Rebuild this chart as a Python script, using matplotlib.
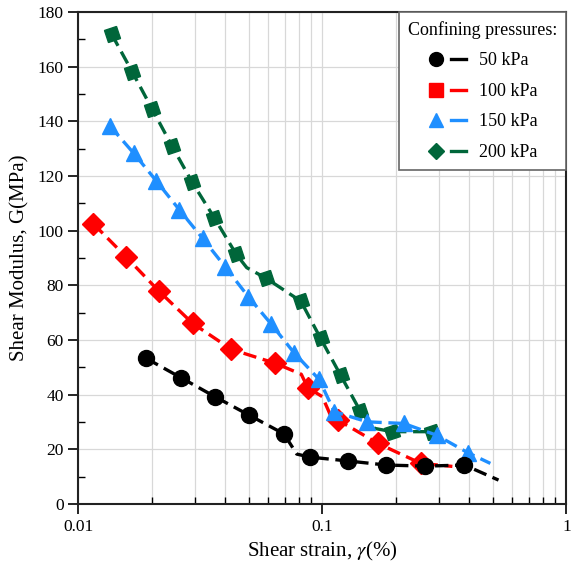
import matplotlib
matplotlib.use("Agg")
import matplotlib.pyplot as plt
from matplotlib.lines import Line2D
from matplotlib.markers import MarkerStyle
from matplotlib.transforms import Affine2D
from matplotlib.legend_handler import HandlerTuple
from matplotlib.ticker import MultipleLocator, FixedLocator, NullFormatter

plt.rcParams['font.family'] = ['Liberation Serif', 'DejaVu Serif']
plt.rcParams['mathtext.fontset'] = 'stix'

# full line paths (strain in %, G in MPa) and which points carry a marker
p50_x = [0.019, 0.0264, 0.0363, 0.050, 0.0696, 0.0786, 0.089, 0.127, 0.1825, 0.264, 0.382, 0.527]
p50_y = [53.3, 46.2, 39.3, 32.6, 25.7, 18.3, 17.2, 15.8, 14.3, 13.9, 14.3, 8.8]
m50 = [0, 1, 2, 3, 4, 6, 7, 8, 9, 10]

p100_x = [0.01154, 0.01567, 0.02135, 0.02943, 0.04239, 0.06423, 0.082, 0.0871, 0.100, 0.108,
          0.1162, 0.1689, 0.2533, 0.341]
p100_y = [102.5, 90.5, 78.0, 66.1, 56.6, 51.5, 47.5, 42.6, 39.3, 32.5,
          30.7, 22.2, 14.9, 13.8]
m100 = [0, 1, 2, 3, 4, 5, 7, 10, 11, 12]

p150_x = [0.01349, 0.01689, 0.02089, 0.02598, 0.03232, 0.03998, 0.04971, 0.06166, 0.0765, 0.097,
          0.112, 0.1528, 0.2155, 0.2941, 0.3946, 0.488]
p150_y = [138.3, 128.3, 118.2, 107.6, 97.2, 86.8, 75.9, 65.9, 55.4, 45.6,
          33.8, 30.1, 29.5, 25.2, 18.8, 14.9]
m150 = list(range(15))

p200_x = [0.0137, 0.01662, 0.02005, 0.02417, 0.02926, 0.03604, 0.0443, 0.049, 0.05885, 0.0817,
          0.0984, 0.1187, 0.1431, 0.1637, 0.1931, 0.2827]
p200_y = [171.9, 158.2, 144.6, 131.1, 117.8, 104.8, 91.5, 86.5, 82.6, 74.2,
          60.6, 47.2, 34.0, 27.7, 26.5, 26.5]
m200 = [0, 1, 2, 3, 4, 5, 6, 8, 9, 10, 11, 12, 14, 15]

labels = ['50 kPa', '100 kPa', '150 kPa', '200 kPa']

fig = plt.figure(figsize=(5.71, 5.69), dpi=100)
ax = fig.add_axes([0.137, 0.114, 0.855, 0.865])

lw = 2.4
dash = (4, 2)

def sq(angle):
    return MarkerStyle('s', transform=Affine2D().rotate_deg(angle))

series = [
    (p50_x, p50_y, m50, 'black', 'o', 11.5, 6),
    (p100_x, p100_y, m100, '#ff0000', sq(45), 11.5, 4),
    (p150_x, p150_y, m150, '#1f8fff', '^', 11.5, 5),
    (p200_x, p200_y, m200, '#00663a', sq(20), 9.5, 3),
]
legend_marks = ['o', 's', '^', 'D']

handles = []
for (x, y, marks, color, mk, ms, z), lab, lm in zip(series, labels, legend_marks):
    ax.plot(x, y, color=color, lw=lw, dashes=dash, zorder=z)
    mx = [x[i] for i in marks]
    my = [y[i] for i in marks]
    ax.plot(mx, my, ls='none', marker=mk, ms=ms, color=color, mec=color, zorder=z)
    hm = Line2D([], [], ls='none', marker=lm, ms=10 if lm != 'D' else 8.5, color=color)
    hl = Line2D([], [], color=color, lw=lw)
    handles.append((hm, hl))

ax.set_xscale('log')
ax.set_xlim(0.01, 1)
ax.set_ylim(0, 180)
ax.yaxis.set_major_locator(MultipleLocator(20))
ax.yaxis.set_minor_locator(MultipleLocator(10))
ax.xaxis.set_major_locator(FixedLocator([0.01, 0.1, 1]))
ax.set_xticklabels(['0.01', '0.1', '1'])
ax.xaxis.set_minor_locator(FixedLocator([k * 10.0 ** e for e in (-2, -1) for k in range(2, 10)]))
ax.xaxis.set_minor_formatter(NullFormatter())

ax.grid(True, which='major', axis='both', color='#d8d8d8', lw=0.9)
ax.grid(True, which='minor', axis='x', color='#d8d8d8', lw=0.9)
ax.set_axisbelow(True)

ax.tick_params(which='major', direction='out', length=7, width=1.2, labelsize=12.5)
ax.tick_params(which='minor', direction='in', length=5, width=1.0)
for s in ax.spines.values():
    s.set_linewidth(1.5)
    s.set_color('#222222')

ax.set_xlabel(r'Shear strain, $\gamma$(%)', fontsize=15, labelpad=4)
ax.set_ylabel('Shear Modulus, G(MPa)', fontsize=15, labelpad=6)

leg = ax.legend(handles, labels, handler_map={tuple: HandlerTuple(ndivide=None, pad=0.4)},
                title='Confining pressures:', loc='upper right', fontsize=13,
                title_fontsize=13, fancybox=False, edgecolor='#666666', framealpha=1,
                handlelength=2.1, handletextpad=0.7, borderaxespad=0.0, labelspacing=0.75,
                borderpad=0.5)
leg.get_frame().set_linewidth(1.2)
leg.set_zorder(10)

fig.savefig('out.png', dpi=100)
